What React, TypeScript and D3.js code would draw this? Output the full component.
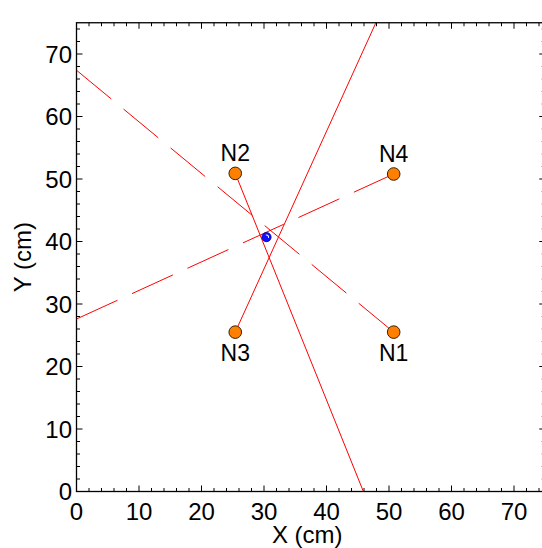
import React from "react";
import * as d3 from "d3";

const width = 542;
const height = 548;

// node positions (cm)
const nodeNames = ["N1", "N2", "N3", "N4"];
const nodeX = [50.75, 25.4, 25.4, 50.75];
const nodeY = [25.5, 50.9, 25.5, 50.8];
const labelAbove = [false, true, false, true];

// estimated source position
const estX = 30.4;
const estY = 40.7;

// bearing lines: from a node out to the frame
const solidFrom = ["N2", "N3"];
const solidToX = [45.9, 47.9];
const solidToY = [0, 75];
const dashedFromX = [0, 0];
const dashedFromY = [67.4, 27.6];
const dashedTo = ["N1", "N4"];

const xTicks = [0, 10, 20, 30, 40, 50, 60, 70];
const yTicks = [0, 10, 20, 30, 40, 50, 60, 70];

const x = d3.scaleLinear().domain([0, 75]).range([76.5, 545.25]);
const y = d3.scaleLinear().domain([0, 75]).range([491.5, 22.75]);

const minor = d3.range(0, 76, 2);
const font = "Liberation Sans, Arial, sans-serif";

const nodeAt = (name: string) => {
  const i = nodeNames.indexOf(name);
  return [nodeX[i], nodeY[i]];
};

export default function App() {
  const [x0, x1] = x.range();
  const [y0, y1] = y.range();
  const line = d3.line<number[]>().x(d => x(d[0])).y(d => y(d[1]));

  return (
    <svg width={width} height={height} style={{ position: "absolute", left: 0, top: 0 }}>
      <defs>
        <clipPath id="plot">
          <rect x={x0} y={y1} width={x1 - x0} height={y0 - y1} />
        </clipPath>
      </defs>

      {/* ticks on all four sides */}
      <g stroke="#000" strokeWidth={1}>
        {minor.map(v => {
          const len = v % 10 === 0 ? 6 : 3.5;
          return (
            <g key={v}>
              <line x1={x(v)} x2={x(v)} y1={y0} y2={y0 - len} />
              <line x1={x(v)} x2={x(v)} y1={y1} y2={y1 + len} />
              <line y1={y(v)} y2={y(v)} x1={x0} x2={x0 + len} />
              <line y1={y(v)} y2={y(v)} x1={x1} x2={x1 - len} />
            </g>
          );
        })}
      </g>
      <rect x={x0} y={y1} width={x1 - x0} height={y0 - y1} fill="none" stroke="#000" strokeWidth={1.3} />

      <g fontFamily={font} fontSize={24} fill="#000">
        {xTicks.map(t => (
          <text key={t} x={x(t)} y={520} textAnchor="middle">{t}</text>
        ))}
        {yTicks.map(t => (
          <text key={t} x={72} y={y(t) + 8.6} textAnchor="end">{t}</text>
        ))}
        <text x={(x0 + 542) / 2 - 2} y={543} textAnchor="middle">X (cm)</text>
        <text transform={`translate(31,${(y0 + y1) / 2}) rotate(-90)`} textAnchor="middle">Y (cm)</text>
      </g>

      <g clipPath="url(#plot)" fill="none" stroke="#ff0000" strokeWidth={1}>
        {solidFrom.map((n, i) => (
          <path key={"s" + i} d={line([nodeAt(n), [solidToX[i], solidToY[i]]]) || ""} />
        ))}
        {dashedTo.map((n, i) => (
          <path key={"d" + i} d={line([[dashedFromX[i], dashedFromY[i]], nodeAt(n)]) || ""} strokeDasharray="45,16" />
        ))}
      </g>

      {nodeNames.map((n, i) => (
        <g key={n}>
          <circle cx={x(nodeX[i])} cy={y(nodeY[i])} r={6.3} fill="#ff8000" stroke="#3a2000" strokeWidth={1} />
          <text
            x={x(nodeX[i])}
            y={labelAbove[i] ? y(nodeY[i]) - 12 : y(nodeY[i]) + 28.5}
            textAnchor="middle"
            fontFamily={font}
            fontSize={23}
          >
            {n}
          </text>
        </g>
      ))}

      <g>
        <circle cx={x(estX)} cy={y(estY)} r={4.6} fill="#1010ff" stroke="#0000a0" strokeWidth={0.8} />
        <path
          d={d3.arc()({ innerRadius: 1.6, outerRadius: 2.6, startAngle: -0.3, endAngle: 1.9 }) || ""}
          transform={`translate(${x(estX)},${y(estY)})`}
          fill="#ffffff"
        />
      </g>
    </svg>
  );
}
